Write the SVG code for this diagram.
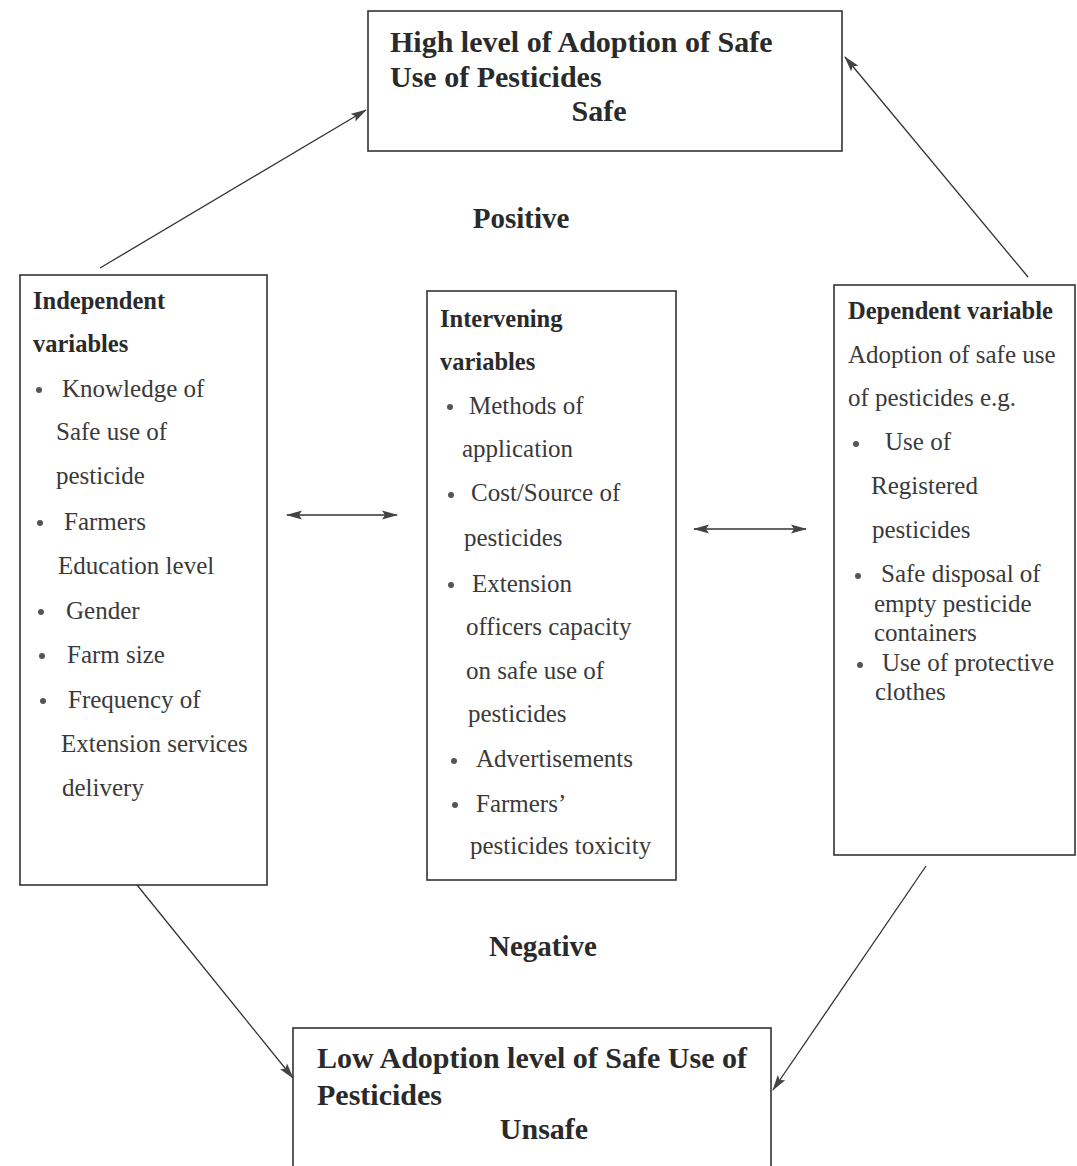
<svg xmlns="http://www.w3.org/2000/svg" width="1077" height="1166" viewBox="0 0 1077 1166">
<defs>
<marker id="ah" viewBox="0 0 16 10" refX="15" refY="5" markerWidth="16" markerHeight="10" orient="auto-start-reverse" markerUnits="userSpaceOnUse">
<path d="M0,0.5 L16,5 L0,9.5 L3,5 z" fill="#444"/>
</marker>
<style>
.box{fill:#fff;stroke:#333;stroke-width:1.6}
.t{font-family:"Liberation Serif","Times New Roman",serif;fill:#3a3a3a;font-size:25px}
.b{font-family:"Liberation Serif","Times New Roman",serif;font-weight:bold;fill:#2a2a2a}
.h{font-size:30px}
.s{font-size:24.5px}
.lab{font-size:29px}
.c{stroke:#333;stroke-width:1.3;fill:none;marker-end:url(#ah)}
.d{stroke:#333;stroke-width:1.6;fill:none;marker-end:url(#ah);marker-start:url(#ah)}
.bul{fill:#555}
</style>
</defs>
<rect width="1077" height="1166" fill="#fff"/>

<g id="connectors">
<line class="c" x1="100" y1="268" x2="366" y2="110"/>
<line class="c" x1="1028" y1="277" x2="845" y2="57"/>
<line class="c" x1="133" y1="880" x2="293" y2="1078"/>
<line class="c" x1="926" y1="866" x2="773" y2="1090"/>
<line class="d" x1="287" y1="515" x2="397" y2="515"/>
<line class="d" x1="694" y1="529" x2="806" y2="529"/>
</g>

<g id="top">
<rect class="box" x="368" y="11" width="474" height="140"/>
<text class="b h" x="390" y="52">High level of Adoption of Safe</text>
<text class="b h" x="390" y="87">Use of Pesticides</text>
<text class="b h" x="599" y="121" text-anchor="middle">Safe</text>
</g>

<g id="positive">
<text class="b lab" x="521" y="228" text-anchor="middle">Positive</text>
</g>

<g id="independent">
<rect class="box" x="20" y="275" width="247" height="610"/>
<text class="b s" x="33" y="309">Independent</text>
<text class="b s" x="33" y="352">variables</text>
<circle class="bul" cx="39" cy="390" r="3"/>
<text class="t" x="62" y="397">Knowledge of</text>
<text class="t" x="56" y="440">Safe use of</text>
<text class="t" x="56" y="484">pesticide</text>
<circle class="bul" cx="40" cy="523" r="3"/>
<text class="t" x="64" y="530">Farmers</text>
<text class="t" x="58" y="574">Education level</text>
<circle class="bul" cx="41" cy="612" r="3"/>
<text class="t" x="66" y="619">Gender</text>
<circle class="bul" cx="42" cy="656" r="3"/>
<text class="t" x="67" y="663">Farm size</text>
<circle class="bul" cx="43" cy="701" r="3"/>
<text class="t" x="68" y="708">Frequency of</text>
<text class="t" x="61" y="752">Extension services</text>
<text class="t" x="62" y="796">delivery</text>
</g>

<g id="intervening">
<rect class="box" x="427" y="291" width="249" height="589"/>
<text class="b s" x="440" y="327">Intervening</text>
<text class="b s" x="440" y="370">variables</text>
<circle class="bul" cx="450" cy="407" r="3"/>
<text class="t" x="469" y="414">Methods of</text>
<text class="t" x="462" y="457">application</text>
<circle class="bul" cx="451" cy="495" r="3"/>
<text class="t" x="471" y="501">Cost/Source of</text>
<text class="t" x="464" y="546">pesticides</text>
<circle class="bul" cx="451" cy="585" r="3"/>
<text class="t" x="472" y="592">Extension</text>
<text class="t" x="466" y="635">officers capacity</text>
<text class="t" x="466" y="679">on safe use of</text>
<text class="t" x="468" y="722">pesticides</text>
<circle class="bul" cx="454" cy="761" r="3"/>
<text class="t" x="476" y="767">Advertisements</text>
<circle class="bul" cx="455" cy="805" r="3"/>
<text class="t" x="476" y="812">Farmers’</text>
<text class="t" x="470" y="854">pesticides toxicity</text>
</g>

<g id="dependent">
<rect class="box" x="834" y="285" width="241" height="570"/>
<text class="b s" x="848" y="319">Dependent variable</text>
<text class="t" x="848" y="363">Adoption of safe use</text>
<text class="t" x="848" y="406">of pesticides e.g.</text>
<circle class="bul" cx="856" cy="444" r="3"/>
<text class="t" x="885" y="450">Use of</text>
<text class="t" x="871" y="494">Registered</text>
<text class="t" x="872" y="538">pesticides</text>
<circle class="bul" cx="858" cy="576" r="3"/>
<text class="t" x="881" y="582">Safe disposal of</text>
<text class="t" x="874" y="612">empty pesticide</text>
<text class="t" x="874" y="641">containers</text>
<circle class="bul" cx="860" cy="665" r="3"/>
<text class="t" x="882" y="671">Use of protective</text>
<text class="t" x="875" y="700">clothes</text>
</g>

<g id="negative">
<text class="b lab" x="543" y="956" text-anchor="middle">Negative</text>
</g>

<g id="bottom">
<rect class="box" x="293" y="1028" width="478" height="150"/>
<text class="b h" x="317" y="1068">Low Adoption level of Safe Use of</text>
<text class="b h" x="317" y="1105">Pesticides</text>
<text class="b h" x="544" y="1139" text-anchor="middle">Unsafe</text>
</g>
</svg>
